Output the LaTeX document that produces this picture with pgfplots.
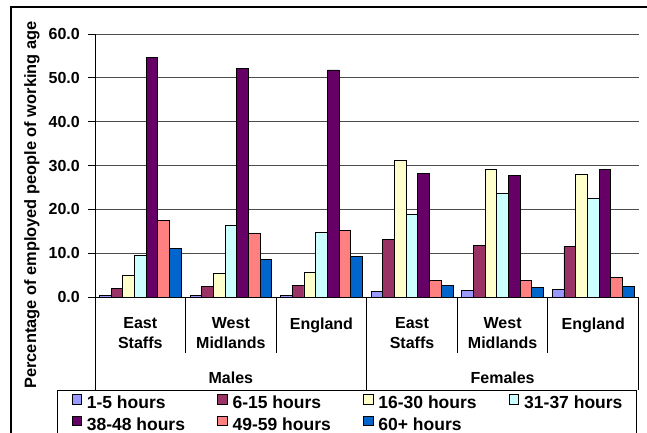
\documentclass[border=0pt]{standalone}
\usepackage{fontspec}
\setmainfont{Liberation Sans}
\usepackage{pgfplots}
\usepackage{pgfplotstable}
\pgfplotsset{compat=1.18}
\definecolor{c1}{HTML}{9999FF}
\definecolor{c2}{HTML}{993366}
\definecolor{c3}{HTML}{FFFFCC}
\definecolor{c4}{HTML}{CCFFFF}
\definecolor{c5}{HTML}{660066}
\definecolor{c6}{HTML}{FF8080}
\definecolor{c7}{HTML}{0066CC}
\pgfplotstableread{
x h1 h2 h3 h4 h5 h6 h7
0 0.3 2.0 4.9 9.4 54.6 17.4 11.1
1 0.3 2.4 5.3 16.4 52.2 14.5 8.6
2 0.3 2.7 5.6 14.8 51.8 15.2 9.3
3 1.2 13.2 31.1 18.9 28.2 3.7 2.6
4 1.5 11.8 29.2 23.6 27.8 3.7 2.2
5 1.7 11.5 28.0 22.5 29.2 4.4 2.4
}\datatable
\begin{document}
\begin{tikzpicture}
\useasboundingbox (0pt,0pt) rectangle (647pt,-432pt);
\draw[line width=1.2pt] (11pt,-450pt) -- (11pt,-7pt) -- (660pt,-7pt);
\node[rotate=90, font=\fontsize{16.4}{20}\selectfont\bfseries] at (32pt,-205pt) {Percentage of employed people of working age};
\begin{axis}[
  at={(95pt,-297pt)}, anchor=south west,
  scale only axis, width=543.5pt, height=263pt,
  xmin=-0.5, xmax=5.5, ymin=0, ymax=60,
  clip=false,
  ybar=0pt, bar width=11.7pt,
  axis x line*=bottom, axis y line*=left,
  axis line style={line width=1pt, -},
  xtick={0,...,5},
  xticklabels={{East\\Staffs},{West\\Midlands},England,{East\\Staffs},{West\\Midlands},England},
  x tick style={draw=none},
  xticklabel style={align=center, anchor=north, yshift=-10pt, font=\fontsize{16}{20}\selectfont\bfseries},
  ytick={0,10,...,60},
  ytick align=outside, major tick length=7pt,
  y tick style={black, line width=1pt},
  ymajorgrids, grid style={black!70, line width=1pt},
  yticklabel style={anchor=east, inner sep=0pt, xshift=-8pt, font=\fontsize{16}{20}\selectfont\bfseries,
    /pgf/number format/.cd, fixed, fixed zerofill, precision=1, assume math mode=true},
  legend columns=4,
  legend image code/.code={\draw[#1] (0pt,0pt) rectangle (9.5pt,9.5pt);},
  legend style={at={(axis description cs:-0.0699,-0.3536)}, anchor=north west, draw=black, line width=1pt,
    inner xsep=14pt, inner ysep=3.5pt, font=\fontsize{17.5}{20}\selectfont\bfseries,
    nodes={inner sep=0pt, text height=13pt, text depth=3pt}, row sep=4pt, column sep=0pt,
    /tikz/every odd column/.append style={column sep=5pt}},
]
\addplot[fill=c1, draw=black, line width=0.8pt] table[x=x,y=h1]{\datatable};
\addlegendentry{\makebox[130.5pt][l]{1-5 hours}}
\addplot[fill=c2, draw=black, line width=0.8pt] table[x=x,y=h2]{\datatable};
\addlegendentry{\makebox[130.5pt][l]{6-15 hours}}
\addplot[fill=c3, draw=black, line width=0.8pt] table[x=x,y=h3]{\datatable};
\addlegendentry{\makebox[130.5pt][l]{16-30 hours}}
\addplot[fill=c4, draw=black, line width=0.8pt] table[x=x,y=h4]{\datatable};
\addlegendentry{31-37 hours}
\addplot[fill=c5, draw=black, line width=0.8pt] table[x=x,y=h5]{\datatable};
\addlegendentry{\makebox[130.5pt][l]{38-48 hours}}
\addplot[fill=c6, draw=black, line width=0.8pt] table[x=x,y=h6]{\datatable};
\addlegendentry{\makebox[130.5pt][l]{49-59 hours}}
\addplot[fill=c7, draw=black, line width=0.8pt] table[x=x,y=h7]{\datatable};
\addlegendentry{\makebox[130.5pt][l]{60+ hours}}
\draw[line width=1pt] (axis cs:0.5,0) -- ++(0pt,-56pt);
\draw[line width=1pt] (axis cs:1.5,0) -- ++(0pt,-56pt);
\draw[line width=1pt] (axis cs:3.5,0) -- ++(0pt,-56pt);
\draw[line width=1pt] (axis cs:4.5,0) -- ++(0pt,-56pt);
\draw[line width=1pt] (axis cs:-0.5,0) -- ++(0pt,-93pt);
\draw[line width=1pt] (axis cs:2.5,0) -- ++(0pt,-93pt);
\draw[line width=1pt] (axis cs:5.5,0) -- ++(0pt,-93pt);
\node[font=\fontsize{16}{20}\selectfont\bfseries] at ([yshift=-81pt]axis cs:1,0) {Males};
\node[font=\fontsize{16}{20}\selectfont\bfseries] at ([yshift=-81pt]axis cs:4,0) {Females};
\end{axis}
\end{tikzpicture}
\end{document}
